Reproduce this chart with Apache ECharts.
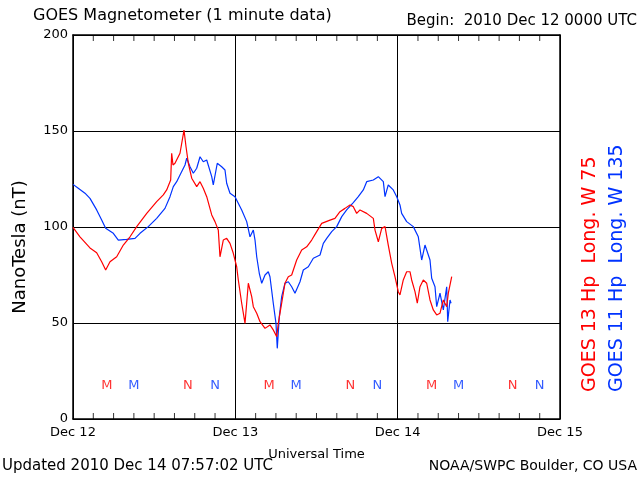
<!DOCTYPE html>
<html><head><meta charset="utf-8">
<script src="https://cdn.jsdelivr.net/npm/echarts@6/dist/echarts.min.js"></script>
<style>html,body{margin:0;padding:0;background:#fff}#c{width:640px;height:480px}</style>
</head><body><div id="c"></div>
<script>
// hours since 2010 Dec 12 00:00 UTC, value nT
const goes13 = [
[0,99.8],[1.03,94.9],[2.51,89.1],[3.5,86.6],[4.24,81.9],[4.83,77.6],[5.47,81.9],[6.46,84.5],[7.44,90.6],[8.43,94.9],
[9.42,100.2],[10.9,107.1],[12.37,113.2],[13.35,116.7],[13.85,119.3],[14.44,124.5],[14.59,138.4],[14.78,132.3],[15.08,133.2],[15.82,138.4],
[16.41,150.5],[16.71,141.8],[17.05,133.2],[17.55,125.4],[18.29,121.0],[18.78,123.6],[19.26,120.2],[19.77,115.8],[20.51,106.3],[20.99,102.8],
[21.48,98.4],[21.73,84.5],[22.22,93.2],[22.72,94.1],[23.21,91.5],[23.7,86.3],[24.2,79.3],[24.44,72.4],[24.94,60.3],[25.43,49.8],
[25.92,70.7],[26.42,63.7],[26.66,58.5],[27.16,55.1],[27.65,50.7],[28.39,47.2],[29.12,49.0],[29.61,46.4],[30.12,42.9],[30.35,49.8],
[30.85,60.3],[31.34,70.7],[31.83,74.1],[32.33,75.0],[33.07,82.8],[33.81,88.0],[34.55,89.7],[35.29,93.2],[36.03,97.6],[36.77,101.9],
[38.0,103.6],[38.73,104.5],[39.47,108.0],[40.21,109.7],[40.95,111.5],[41.44,110.6],[41.94,107.1],[42.43,108.9],[43.42,107.1],[44.4,104.5],
[44.65,98.4],[45.14,92.3],[45.64,99.3],[46.13,100.2],[46.61,90.6],[47.12,81.1],[47.6,74.1],[48.09,66.3],[48.34,64.6],[48.83,72.4],
[49.33,76.7],[49.82,76.7],[50.07,72.4],[50.56,66.3],[50.9,60.3],[51.3,68.9],[51.79,72.4],[52.29,70.7],[52.78,62.0],[53.27,56.8],
[53.77,54.2],[54.26,55.1],[54.75,62.0],[55.25,58.5],[55.49,65.5],[55.99,74.1]
];
const goes11 = [
[0,122.2],[0.78,120.2],[1.77,117.6],[2.51,114.9],[3.5,108.9],[4.24,103.6],[4.83,99.3],[5.96,96.7],[6.7,93.2],[7.94,93.6],
[9.17,94.1],[9.91,96.7],[11.13,100.2],[12.37,104.5],[13.6,109.7],[14.34,115.8],[14.83,121.0],[15.33,123.6],[15.82,127.1],[16.56,132.3],
[16.81,135.8],[17.3,131.4],[17.79,128.0],[18.29,130.6],[18.78,136.6],[19.26,134.0],[19.77,134.9],[20.51,126.2],[20.74,121.9],[21.33,133.2],
[21.98,131.4],[22.47,129.7],[22.72,122.8],[23.21,117.6],[23.95,115.8],[24.94,108.9],[25.68,102.8],[26.17,94.9],[26.66,98.4],[26.91,93.2],
[27.16,84.5],[27.54,75.9],[27.9,70.7],[28.39,75.0],[28.87,76.7],[29.12,74.1],[29.61,60.3],[30.01,49.8],[30.2,36.8],[30.5,53.3],
[30.85,63.7],[31.34,70.7],[31.83,71.5],[32.33,68.9],[32.82,65.5],[33.56,71.5],[34.05,77.6],[34.79,79.3],[35.53,83.7],[36.52,85.4],
[37.01,91.5],[37.51,94.1],[38.25,97.6],[38.99,100.2],[39.73,105.4],[40.46,108.9],[41.44,112.7],[42.18,115.8],[42.92,119.3],[43.42,123.6],
[44.4,124.5],[45.14,126.2],[45.88,123.6],[46.13,115.8],[46.61,121.9],[47.35,119.3],[47.86,115.8],[48.34,111.5],[48.59,107.1],[49.33,102.8],
[50.31,100.2],[51.05,94.9],[51.55,82.8],[52.04,90.6],[52.78,82.8],[53.03,73.3],[53.52,68.9],[53.77,58.5],[54.26,65.5],[54.75,56.8],
[55.25,68.9],[55.4,50.7],[55.74,62.0],[55.89,60.3]
];
const dayLabels = ['Dec 12','Dec 13','Dec 14','Dec 15'];
const yTicks = [0,50,100,150,200];
// 3-hourly minor tick positions (hours)
const tickHours = [3,6,9,12,15,18,21,27,30,33,36,39,42,45,51,54,57,60,63,66,69];
// local midnight (M) / noon (N) markers
const markRed = [[5,17.5,'M'],[17,17.5,'N'],[29,17.5,'M'],[41,17.5,'N'],[53,17.5,'M'],[65,17.5,'N']];
const markBlue = [[9,17.5,'M'],[21,17.5,'N'],[33,17.5,'M'],[45,17.5,'N'],[57,17.5,'M'],[69,17.5,'N']];

const FONT = 'DejaVu Sans';
const RED = '#ff0000', BLUE = '#0033ff';
const chart = echarts.init(document.getElementById('c'), null, {renderer:'canvas'});
chart.setOption({
  animation:false,
  backgroundColor:'#fff',
  grid:{left:73, right:80, top:35, bottom:61, show:false},
  xAxis:[
    {type:'value', min:0, max:72, interval:24, position:'bottom',
      axisLine:{show:true, onZero:false, lineStyle:{color:'#000', width:1.5}},
      axisTick:{show:false},
      axisLabel:{color:'#000', fontFamily:FONT, fontSize:13, margin:7, formatter:v=>dayLabels[v/24]},
      splitLine:{show:true, lineStyle:{color:'#000', width:1}},
      name:'Universal Time', nameLocation:'middle', nameGap:29,
      nameTextStyle:{color:'#000', fontFamily:FONT, fontSize:13}},
    {type:'value', min:0, max:72, interval:24, position:'top',
      axisLine:{show:true, onZero:false, lineStyle:{color:'#000', width:1.5}},
      axisTick:{show:false}, axisLabel:{show:false}, splitLine:{show:false}}
  ],
  yAxis:[
    {type:'value', min:0, max:200, interval:50, position:'left',
     axisLine:{show:true, onZero:false, lineStyle:{color:'#000', width:1.5}}, axisTick:{show:false},
     axisLabel:{color:'#000', fontFamily:FONT, fontSize:13, margin:5, formatter:v=>yTicks.includes(v)?String(v):''},
     splitLine:{show:true, lineStyle:{color:'#000', width:1}}},
    {type:'value', min:0, max:200, interval:50, position:'right',
     axisLine:{show:true, onZero:false, lineStyle:{color:'#000', width:1.5}}, axisTick:{show:false},
     axisLabel:{show:false}, splitLine:{show:false}}
  ],
  series:[
    {type:'line', data:goes11, showSymbol:false, symbol:'none', lineStyle:{color:BLUE, width:1.2}, z:3},
    {type:'line', data:goes13, showSymbol:false, symbol:'none', lineStyle:{color:RED, width:1.2}, z:4},
    {type:'scatter', data:markRed, symbolSize:0, label:{show:true, position:'inside', formatter:p=>p.data[2], color:RED, fontFamily:FONT, fontSize:13}},
    {type:'scatter', data:markBlue, symbolSize:0, label:{show:true, position:'inside', formatter:p=>p.data[2], color:BLUE, fontFamily:FONT, fontSize:13}},
    {type:'scatter', data:tickHours.map(h=>[h,0]), symbol:'rect', symbolSize:[1,6], symbolOffset:[0,-3], clip:false, silent:true,
     itemStyle:{color:'#000'}, z:5},
    {type:'scatter', data:tickHours.map(h=>[h,200]), symbol:'rect', symbolSize:[1,6], symbolOffset:[0,3], clip:false, silent:true,
     itemStyle:{color:'#000'}, z:5}
  ],
  graphic:[
    {type:'text', left:33, top:8, style:{text:'GOES Magnetometer (1 minute data)', fill:'#000', font:'16px "DejaVu Sans"'}},
    {type:'text', right:3, top:14, style:{text:'Begin:  2010 Dec 12 0000 UTC', fill:'#000', font:'15px "DejaVu Sans"'}},
    {type:'text', left:2, top:459, style:{text:'Updated 2010 Dec 14 07:57:02 UTC', fill:'#000', font:'15px "DejaVu Sans"'}},
    {type:'text', right:3, top:459, style:{text:'NOAA/SWPC Boulder, CO USA', fill:'#000', font:'14px "DejaVu Sans"'}},
    {type:'text', x:20, y:247, rotation:Math.PI/2, style:{text:'NanoTesla (nT)', fill:'#000', font:'18px "DejaVu Sans"', textAlign:'center', textVerticalAlign:'middle'}},
    {type:'text', x:590, y:392, rotation:Math.PI/2, style:{text:'GOES 13 Hp  Long. W 75', fill:RED, font:'19px "DejaVu Sans"', textAlign:'left', textVerticalAlign:'middle'}},
    {type:'text', x:617, y:392, rotation:Math.PI/2, style:{text:'GOES 11 Hp  Long. W 135', fill:BLUE, font:'19px "DejaVu Sans"', textAlign:'left', textVerticalAlign:'middle'}}
  ]
});
</script></body></html>
